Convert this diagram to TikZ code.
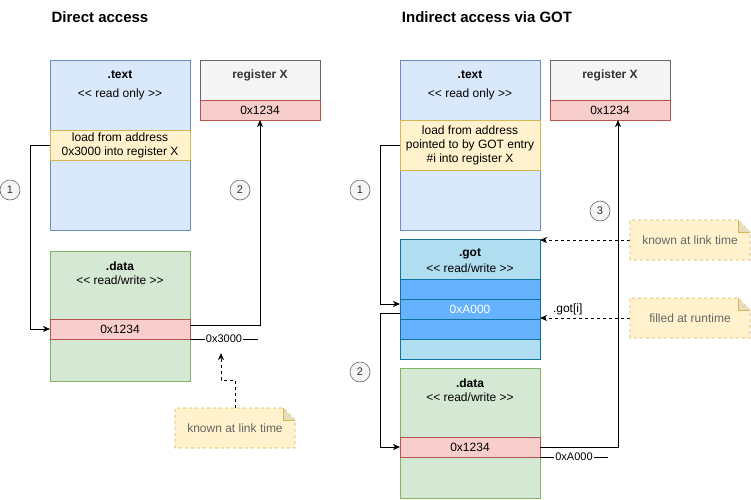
\documentclass[tikz,border=0pt]{standalone}
\usepackage{fontspec}
\setmainfont[Ligatures=NoCommon]{Liberation Sans}
\usetikzlibrary{positioning, arrows.meta}

\definecolor{blueFill}{HTML}{DAE8FC}
\definecolor{blueLine}{HTML}{6C8EBF}
\definecolor{yellowFill}{HTML}{FFF2CC}
\definecolor{yellowLine}{HTML}{D6B656}
\definecolor{grayFill}{HTML}{F5F5F5}
\definecolor{grayLine}{HTML}{666666}
\definecolor{grayText}{HTML}{333333}
\definecolor{redFill}{HTML}{F8CECC}
\definecolor{redLine}{HTML}{B85450}
\definecolor{greenFill}{HTML}{D5E8D4}
\definecolor{greenLine}{HTML}{82B366}
\definecolor{gotFill}{HTML}{B1DDF0}
\definecolor{gotLine}{HTML}{10739E}
\definecolor{entryFill}{HTML}{66B2FF}
\definecolor{foldFill}{HTML}{E8DDBC}

\newcommand{\rmode}[1]{\textless{}\textless{} #1 \textgreater{}\textgreater{}}

\begin{document}
\begin{tikzpicture}[x=1pt,y=-1pt,>={Stealth[length=7pt,width=6pt,inset=2pt]},semithick,
    every node/.style={font=\fontsize{12}{14}\selectfont,inner sep=0pt,outer sep=0pt}]
        \tikzstyle{box}=[draw,rectangle,line width=0.8pt]
        \tikzstyle{textsec}=[box,fill=blueFill,draw=blueLine,minimum width=140,minimum height=170]
        \tikzstyle{loadbox}=[box,fill=yellowFill,draw=yellowLine,minimum width=140,align=center]
        \tikzstyle{regbox}=[box,fill=grayFill,draw=grayLine,minimum width=120,minimum height=40]
        \tikzstyle{valbox}=[box,fill=redFill,draw=redLine,minimum width=140,minimum height=20]
        \tikzstyle{datasec}=[box,fill=greenFill,draw=greenLine,minimum width=140,minimum height=130]
        \tikzstyle{gotsec}=[box,fill=gotFill,draw=gotLine,minimum width=140,minimum height=120]
        \tikzstyle{entry}=[box,fill=entryFill,draw=gotLine,minimum width=140,minimum height=20]
        \tikzstyle{secname}=[font=\bfseries\fontsize{12}{14}\selectfont]
        \tikzstyle{stepnum}=[draw=grayLine,fill=grayFill,text=grayText,circle,minimum size=20,font=\fontsize{11}{13}\selectfont]
        \tikzstyle{addr}=[fill=white,inner sep=1pt,font=\fontsize{11}{13}\selectfont]
        \tikzstyle{note}=[minimum width=120,minimum height=40,text=grayLine]
        \tikzstyle{wire}=[->,line width=0.8pt]
        \tikzstyle{hint}=[->,dashed,line width=0.8pt]

        \useasboundingbox (0,0) rectangle (751,499);

        % direct access
        \node[font=\bfseries\fontsize{15}{17}\selectfont] (titleA) at (100,17) {Direct access};

        \node[textsec] (txtA) at (120,145) {};
        \node[secname] (txtA-name) at (120,75) {.text};
        \node (txtA-mode) at (120,94) {\rmode{read only}};
        \node[loadbox,minimum height=30] (loadA) at (120,145) {load from address\\0x3000 into register X};

        \node[regbox] (regA) at (260,80) {};
        \node[secname,text=grayText] (regA-name) at (260,75) {register X};
        \node[valbox,minimum width=120] (regvalA) at (260,110) {0x1234};

        \node[datasec] (dataA) at (120,316) {};
        \node[secname] (dataA-name) at (120,266) {.data};
        \node (dataA-mode) at (120,280) {\rmode{read/write}};
        \node[valbox] (dvalA) at (120,329) {0x1234};

        \node[stepnum] (s1A) at (10,190) {1};
        \node[stepnum] (s2A) at (240,190) {2};

        \node[note] (noteA) at (235,428) {};
        \coordinate (endA) at (258,339);
        \coordinate (hintA) at (221,353);

        \draw[wire] (loadA.west) -- ++(-20,0) |- (dvalA.west);
        \draw[wire] ([yshift=4pt]dvalA.east) -| (regvalA.south);
        \draw[line width=0.8pt] (dvalA.south east) -- node[addr] (addrA) {0x3000} (endA);
        \draw[hint] (noteA.north) -- ++(0,-28) -| (hintA);

        % indirect access via GOT
        \node[font=\bfseries\fontsize{15}{17}\selectfont] (titleB) at (487,17) {Indirect access via GOT};

        \node[textsec] (txtB) at (470,145) {};
        \node[secname] (txtB-name) at (470,75) {.text};
        \node (txtB-mode) at (470,94) {\rmode{read only}};
        \node[loadbox,minimum height=50] (loadB) at (470,145) {load from address\\pointed to by GOT entry\\\#i into register X};

        \node[regbox] (regB) at (610,80) {};
        \node[secname,text=grayText] (regB-name) at (610,75) {register X};
        \node[valbox,minimum width=120] (regvalB) at (610,110) {0x1234};

        \node[gotsec] (gotB) at (470,299) {};
        \node[secname] (gotB-name) at (470,254) {.got};
        \node (gotB-mode) at (470,268) {\rmode{read/write}};
        \node[entry] (entry1) at (470,289) {};
        \node[entry,text=white] (entry2) at (470,309) {0xA000};
        \node[entry] (entry3) at (470,329) {};

        \node[datasec] (dataB) at (470,433) {};
        \node[secname] (dataB-name) at (470,383) {.data};
        \node (dataB-mode) at (470,397) {\rmode{read/write}};
        \node[valbox] (dvalB) at (470,447) {0x1234};

        \node[stepnum] (s1B) at (360,190) {1};
        \node[stepnum] (s2B) at (360,372) {2};
        \node[stepnum] (s3B) at (600,211) {3};

        \node[note] (noteB1) at (690,240) {};
        \node[note] (noteB2) at (690,318) {};
        \coordinate (endB) at (608,457);

        \draw[wire] (loadB.west) -- ++(-20,0) |- ([yshift=5pt]entry2.west);
        \draw[wire] ([yshift=-4pt]entry2.west) -- ++(-20,0) |- (dvalB.west);
        \draw[wire] (dvalB.east) -| ([xshift=8pt]regvalB.south);
        \draw[line width=0.8pt] (dvalB.south east) -- node[addr] (addrB) {0xA000} (endB);
        \draw[hint] (noteB1.west) -- (noteB1.west -| gotB.east);
        \draw[hint] (noteB2.west) -- (noteB2.west -| gotB.east);
        \node[anchor=south west] (gotidx) at (553,315) {.got[i]};

        % notes with folded corner
        \foreach \n/\t in {noteA/known at link time, noteB1/known at link time, noteB2/filled at runtime} {
            \fill[yellowFill] (\n.south west) -- (\n.north west) -- ([xshift=-12pt]\n.north east)
                -- ([yshift=-12pt]\n.north east) -- (\n.south east) -- cycle;
            \draw[yellowLine,dashed,line width=0.8pt] (\n.south west) -- (\n.north west) -- ([xshift=-12pt]\n.north east)
                -- ([yshift=-12pt]\n.north east) -- (\n.south east) -- cycle;
            \filldraw[fill=foldFill,draw=yellowLine,line width=0.6pt] ([xshift=-12pt]\n.north east)
                -- ([xshift=-12pt,yshift=-12pt]\n.north east) -- ([yshift=-12pt]\n.north east);
            \node[text=grayLine] at (\n.center) {\t};
        }
    \end{tikzpicture}
\end{document}
